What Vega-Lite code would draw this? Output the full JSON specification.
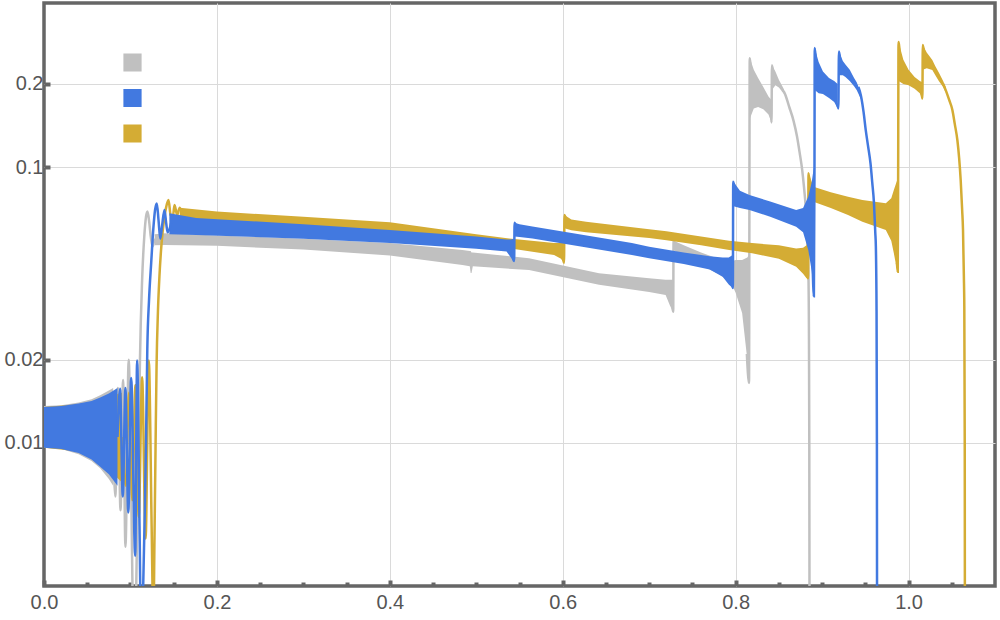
{
"$schema": "https://vega.github.io/schema/vega-lite/v6.json",
"width": 951, "height": 583,
"autosize": {"type": "none"},
"padding": {"left": 44, "top": 3, "right": 5, "bottom": 34},
"background": "white",
"config": {
  "view": {"stroke": "#666666", "strokeWidth": 3.5},
  "axis": {"domain": false, "labelFont": "Arial", "labelFontSize": 20, "labelColor": "#555555", "gridColor": "#dadada", "gridWidth": 1, "tickColor": "#666666", "tickWidth": 4}
},
"datasets": {
"band": [
{"s":"g","seg":"g0","x":0,"v":0.0136,"v2":0.0096},{"s":"g","seg":"g0","x":0.02,"v":0.0137,"v2":0.0095},{"s":"g","seg":"g0","x":0.04,"v":0.0140,"v2":0.0091},{"s":"g","seg":"g0","x":0.055,"v":0.0144,"v2":0.0086},{"s":"g","seg":"g0","x":0.065,"v":0.0149,"v2":0.0081},{"s":"g","seg":"g0","x":0.075,"v":0.0155,"v2":0.0074},{"s":"g","seg":"g0","x":0.08,"v":0.0158,"v2":0.0070},
{"s":"g","seg":"g1","x":0.128,"v":0.057,"v2":0.052},{"s":"g","seg":"g1","x":0.14,"v":0.0575,"v2":0.0522},{"s":"g","seg":"g1","x":0.2,"v":0.0565,"v2":0.0518},{"s":"g","seg":"g1","x":0.3,"v":0.055,"v2":0.0502},{"s":"g","seg":"g1","x":0.4,"v":0.053,"v2":0.0478},{"s":"g","seg":"g1","x":0.484,"v":0.05,"v2":0.0441},{"s":"g","seg":"g1","x":0.4925,"v":0.0496,"v2":0.0437},{"s":"g","seg":"g1","x":0.4935,"v":0.0496,"v2":0.0413},{"s":"g","seg":"g1","x":0.4945,"v":0.049,"v2":0.0413},{"s":"g","seg":"g1","x":0.496,"v":0.049,"v2":0.0437},{"s":"g","seg":"g1","x":0.561,"v":0.0467,"v2":0.0423},{"s":"g","seg":"g1","x":0.642,"v":0.0412,"v2":0.0374},{"s":"g","seg":"g1","x":0.7,"v":0.0395,"v2":0.0352},{"s":"g","seg":"g1","x":0.719,"v":0.039,"v2":0.0344},{"s":"g","seg":"g1","x":0.724,"v":0.039,"v2":0.0315},{"s":"g","seg":"g1","x":0.7275,"v":0.039,"v2":0.0299},
{"s":"g","seg":"g2","x":0.7285,"v":0.054,"v2":0.05},{"s":"g","seg":"g2","x":0.74,"v":0.052,"v2":0.047},{"s":"g","seg":"g2","x":0.76,"v":0.049,"v2":0.044},{"s":"g","seg":"g2","x":0.78,"v":0.0465,"v2":0.041},{"s":"g","seg":"g2","x":0.795,"v":0.0455,"v2":0.038},{"s":"g","seg":"g2","x":0.8,"v":0.046,"v2":0.035},{"s":"g","seg":"g2","x":0.8075,"v":0.046,"v2":0.0296},{"s":"g","seg":"g2","x":0.8135,"v":0.047,"v2":0.02},{"s":"g","seg":"g2","x":0.8155,"v":0.048,"v2":0.0165},
{"s":"g","seg":"g3","x":0.8165,"v":0.248,"v2":0.15},{"s":"g","seg":"g3","x":0.821,"v":0.225,"v2":0.163},{"s":"g","seg":"g3","x":0.826,"v":0.21,"v2":0.165},{"s":"g","seg":"g3","x":0.832,"v":0.195,"v2":0.162},{"s":"g","seg":"g3","x":0.838,"v":0.18,"v2":0.155},{"s":"g","seg":"g3","x":0.8415,"v":0.175,"v2":0.145},
{"s":"g","seg":"g4","x":0.842,"v":0.234,"v2":0.19},{"s":"g","seg":"g4","x":0.846,"v":0.222,"v2":0.198},{"s":"g","seg":"g4","x":0.85,"v":0.207,"v2":0.194},{"s":"g","seg":"g4","x":0.856,"v":0.191,"v2":0.184},
{"s":"b","seg":"b0","x":0,"v":0.0135,"v2":0.0096},{"s":"b","seg":"b0","x":0.02,"v":0.0136,"v2":0.0095},{"s":"b","seg":"b0","x":0.04,"v":0.0139,"v2":0.0092},{"s":"b","seg":"b0","x":0.055,"v":0.0142,"v2":0.0087},{"s":"b","seg":"b0","x":0.065,"v":0.0146,"v2":0.0082},{"s":"b","seg":"b0","x":0.075,"v":0.0151,"v2":0.0077},{"s":"b","seg":"b0","x":0.085,"v":0.0158,"v2":0.007},
{"s":"b","seg":"b1","x":0.145,"v":0.068,"v2":0.057},{"s":"b","seg":"b1","x":0.176,"v":0.0654,"v2":0.0567},{"s":"b","seg":"b1","x":0.3,"v":0.062,"v2":0.055},{"s":"b","seg":"b1","x":0.4,"v":0.0591,"v2":0.053},{"s":"b","seg":"b1","x":0.5,"v":0.056,"v2":0.0505},{"s":"b","seg":"b1","x":0.535,"v":0.0546,"v2":0.0494},{"s":"b","seg":"b1","x":0.54,"v":0.0546,"v2":0.047},{"s":"b","seg":"b1","x":0.5435,"v":0.055,"v2":0.0456},
{"s":"b","seg":"b2","x":0.5445,"v":0.0628,"v2":0.056},{"s":"b","seg":"b2","x":0.55,"v":0.062,"v2":0.0558},{"s":"b","seg":"b2","x":0.565,"v":0.0609,"v2":0.0551},{"s":"b","seg":"b2","x":0.68,"v":0.053,"v2":0.048},{"s":"b","seg":"b2","x":0.7,"v":0.0514,"v2":0.0467},{"s":"b","seg":"b2","x":0.74,"v":0.049,"v2":0.0445},{"s":"b","seg":"b2","x":0.77,"v":0.0475,"v2":0.0425},{"s":"b","seg":"b2","x":0.785,"v":0.047,"v2":0.04},{"s":"b","seg":"b2","x":0.792,"v":0.047,"v2":0.0375},{"s":"b","seg":"b2","x":0.7965,"v":0.048,"v2":0.0364},
{"s":"b","seg":"b3","x":0.7975,"v":0.0885,"v2":0.072},{"s":"b","seg":"b3","x":0.805,"v":0.082,"v2":0.071},{"s":"b","seg":"b3","x":0.816,"v":0.0792,"v2":0.0699},{"s":"b","seg":"b3","x":0.84,"v":0.075,"v2":0.066},{"s":"b","seg":"b3","x":0.87,"v":0.0699,"v2":0.0608},{"s":"b","seg":"b3","x":0.878,"v":0.071,"v2":0.058},{"s":"b","seg":"b3","x":0.884,"v":0.078,"v2":0.05},{"s":"b","seg":"b3","x":0.888,"v":0.088,"v2":0.042},{"s":"b","seg":"b3","x":0.8905,"v":0.1,"v2":0.034},
{"s":"b","seg":"b4","x":0.8915,"v":0.27,"v2":0.19},{"s":"b","seg":"b4","x":0.896,"v":0.24,"v2":0.185},{"s":"b","seg":"b4","x":0.901,"v":0.222,"v2":0.184},{"s":"b","seg":"b4","x":0.908,"v":0.21,"v2":0.178},{"s":"b","seg":"b4","x":0.914,"v":0.205,"v2":0.172},{"s":"b","seg":"b4","x":0.918,"v":0.2,"v2":0.163},
{"s":"b","seg":"b5","x":0.9195,"v":0.262,"v2":0.215},{"s":"b","seg":"b5","x":0.924,"v":0.242,"v2":0.215},{"s":"b","seg":"b5","x":0.927,"v":0.235,"v2":0.212},{"s":"b","seg":"b5","x":0.932,"v":0.225,"v2":0.205},{"s":"b","seg":"b5","x":0.937,"v":0.21,"v2":0.196},{"s":"b","seg":"b5","x":0.94,"v":0.203,"v2":0.19},{"s":"b","seg":"b5","x":0.945,"v":0.186,"v2":0.176},
{"s":"y","seg":"y0","x":0,"v":0.0135,"v2":0.0096},{"s":"y","seg":"y0","x":0.04,"v":0.0138,"v2":0.0093},{"s":"y","seg":"y0","x":0.06,"v":0.0142,"v2":0.0087},{"s":"y","seg":"y0","x":0.075,"v":0.0147,"v2":0.008},{"s":"y","seg":"y0","x":0.09,"v":0.0152,"v2":0.0072},
{"s":"y","seg":"y1","x":0.157,"v":0.0712,"v2":0.064},{"s":"y","seg":"y1","x":0.2,"v":0.069,"v2":0.0635},{"s":"y","seg":"y1","x":0.3,"v":0.066,"v2":0.06},{"s":"y","seg":"y1","x":0.4,"v":0.063,"v2":0.058},{"s":"y","seg":"y1","x":0.5,"v":0.057,"v2":0.0525},{"s":"y","seg":"y1","x":0.538,"v":0.0551,"v2":0.0508},{"s":"y","seg":"y1","x":0.59,"v":0.053,"v2":0.048},{"s":"y","seg":"y1","x":0.598,"v":0.053,"v2":0.0465},{"s":"y","seg":"y1","x":0.6015,"v":0.053,"v2":0.045},
{"s":"y","seg":"y2","x":0.602,"v":0.067,"v2":0.06},{"s":"y","seg":"y2","x":0.61,"v":0.0645,"v2":0.059},{"s":"y","seg":"y2","x":0.627,"v":0.0633,"v2":0.058},{"s":"y","seg":"y2","x":0.7,"v":0.0595,"v2":0.0553},{"s":"y","seg":"y2","x":0.72,"v":0.0585,"v2":0.0543},{"s":"y","seg":"y2","x":0.76,"v":0.056,"v2":0.052},{"s":"y","seg":"y2","x":0.7925,"v":0.054,"v2":0.05},{"s":"y","seg":"y2","x":0.819,"v":0.053,"v2":0.0487},{"s":"y","seg":"y2","x":0.85,"v":0.052,"v2":0.0465},{"s":"y","seg":"y2","x":0.87,"v":0.0507,"v2":0.0435},{"s":"y","seg":"y2","x":0.878,"v":0.051,"v2":0.041},{"s":"y","seg":"y2","x":0.882,"v":0.052,"v2":0.0395},{"s":"y","seg":"y2","x":0.8835,"v":0.056,"v2":0.0395},
{"s":"y","seg":"y3","x":0.8845,"v":0.095,"v2":0.078},{"s":"y","seg":"y3","x":0.89,"v":0.0848,"v2":0.0749},{"s":"y","seg":"y3","x":0.91,"v":0.081,"v2":0.071},{"s":"y","seg":"y3","x":0.93,"v":0.078,"v2":0.067},{"s":"y","seg":"y3","x":0.9466,"v":0.0759,"v2":0.0633},{"s":"y","seg":"y3","x":0.9737,"v":0.0739,"v2":0.0591},{"s":"y","seg":"y3","x":0.98,"v":0.077,"v2":0.054},{"s":"y","seg":"y3","x":0.983,"v":0.0825,"v2":0.0487},{"s":"y","seg":"y3","x":0.987,"v":0.09,"v2":0.0417},{"s":"y","seg":"y3","x":0.9878,"v":0.1,"v2":0.0417},
{"s":"y","seg":"y4","x":0.9885,"v":0.284,"v2":0.205},{"s":"y","seg":"y4","x":0.994,"v":0.245,"v2":0.2},{"s":"y","seg":"y4","x":1.0,"v":0.225,"v2":0.198},{"s":"y","seg":"y4","x":1.007,"v":0.212,"v2":0.192},{"s":"y","seg":"y4","x":1.013,"v":0.205,"v2":0.185},{"s":"y","seg":"y4","x":1.016,"v":0.203,"v2":0.177},
{"s":"y","seg":"y5","x":1.0165,"v":0.277,"v2":0.225},{"s":"y","seg":"y5","x":1.021,"v":0.26,"v2":0.228},{"s":"y","seg":"y5","x":1.0275,"v":0.244,"v2":0.2246},{"s":"y","seg":"y5","x":1.031,"v":0.232,"v2":0.215},{"s":"y","seg":"y5","x":1.035,"v":0.22,"v2":0.205},{"s":"y","seg":"y5","x":1.04,"v":0.205,"v2":0.195},{"s":"y","seg":"y5","x":1.043,"v":0.195,"v2":0.186}
],
"line": [
{"s":"g","seg":"gL1","x":0.08,"v":0.0105},{"s":"g","seg":"gL1","x":0.0825,"v":0.0064},{"s":"g","seg":"gL1","x":0.0855,"v":0.0158},{"s":"g","seg":"gL1","x":0.0885,"v":0.0057},{"s":"g","seg":"gL1","x":0.0915,"v":0.0169},{"s":"g","seg":"gL1","x":0.0942,"v":0.0042},{"s":"g","seg":"gL1","x":0.098,"v":0.02},{"s":"g","seg":"gL1","x":0.1005,"v":0.008},{"s":"g","seg":"gL1","x":0.1035,"v":0.0022},{"s":"g","seg":"gL1","x":0.106,"v":0.0025},{"s":"g","seg":"gL1","x":0.108,"v":0.0055},{"s":"g","seg":"gL1","x":0.1096,"v":0.01},{"s":"g","seg":"gL1","x":0.111,"v":0.02},{"s":"g","seg":"gL1","x":0.1135,"v":0.039},{"s":"g","seg":"gL1","x":0.116,"v":0.056},{"s":"g","seg":"gL1","x":0.118,"v":0.066},{"s":"g","seg":"gL1","x":0.1197,"v":0.069},{"s":"g","seg":"gL1","x":0.1215,"v":0.064},{"s":"g","seg":"gL1","x":0.1235,"v":0.056},{"s":"g","seg":"gL1","x":0.1255,"v":0.0515},{"s":"g","seg":"gL1","x":0.128,"v":0.0545},{"s":"g","seg":"gL1","x":0.132,"v":0.0545},
{"s":"g","seg":"gL2","x":0.726,"v":0.034},{"s":"g","seg":"gL2","x":0.7278,"v":0.0299},{"s":"g","seg":"gL2","x":0.7282,"v":0.054},{"s":"g","seg":"gL2","x":0.731,"v":0.051},
{"s":"g","seg":"gL3","x":0.813,"v":0.021},{"s":"g","seg":"gL3","x":0.8155,"v":0.0165},{"s":"g","seg":"gL3","x":0.8163,"v":0.248},{"s":"g","seg":"gL3","x":0.818,"v":0.21},
{"s":"g","seg":"gL4","x":0.8405,"v":0.16},{"s":"g","seg":"gL4","x":0.8415,"v":0.145},{"s":"g","seg":"gL4","x":0.842,"v":0.234},{"s":"g","seg":"gL4","x":0.844,"v":0.215},
{"s":"g","seg":"gL5","x":0.854,"v":0.19},{"s":"g","seg":"gL5","x":0.856,"v":0.187},{"s":"g","seg":"gL5","x":0.862,"v":0.165},{"s":"g","seg":"gL5","x":0.867,"v":0.147},{"s":"g","seg":"gL5","x":0.871,"v":0.129},{"s":"g","seg":"gL5","x":0.874,"v":0.113},{"s":"g","seg":"gL5","x":0.877,"v":0.0975},{"s":"g","seg":"gL5","x":0.879,"v":0.085},{"s":"g","seg":"gL5","x":0.881,"v":0.072},{"s":"g","seg":"gL5","x":0.883,"v":0.055},{"s":"g","seg":"gL5","x":0.884,"v":0.045},{"s":"g","seg":"gL5","x":0.8848,"v":0.025},{"s":"g","seg":"gL5","x":0.8852,"v":0.01},{"s":"g","seg":"gL5","x":0.8855,"v":0.002},
{"s":"b","seg":"bL1","x":0.085,"v":0.0105},{"s":"b","seg":"bL1","x":0.088,"v":0.0157},{"s":"b","seg":"bL1","x":0.0911,"v":0.0064},{"s":"b","seg":"bL1","x":0.0942,"v":0.0158},{"s":"b","seg":"bL1","x":0.0975,"v":0.0056},{"s":"b","seg":"bL1","x":0.1008,"v":0.0172},{"s":"b","seg":"bL1","x":0.1055,"v":0.0039},{"s":"b","seg":"bL1","x":0.1077,"v":0.0199},{"s":"b","seg":"bL1","x":0.1105,"v":0.005},{"s":"b","seg":"bL1","x":0.1125,"v":0.0018},{"s":"b","seg":"bL1","x":0.1145,"v":0.0028},{"s":"b","seg":"bL1","x":0.1165,"v":0.0055},{"s":"b","seg":"bL1","x":0.118,"v":0.01},{"s":"b","seg":"bL1","x":0.1195,"v":0.022},{"s":"b","seg":"bL1","x":0.1215,"v":0.033},{"s":"b","seg":"bL1","x":0.124,"v":0.045},{"s":"b","seg":"bL1","x":0.1265,"v":0.06},{"s":"b","seg":"bL1","x":0.1285,"v":0.07},{"s":"b","seg":"bL1","x":0.1305,"v":0.0738},{"s":"b","seg":"bL1","x":0.1325,"v":0.064},{"s":"b","seg":"bL1","x":0.1345,"v":0.055},{"s":"b","seg":"bL1","x":0.1365,"v":0.061},{"s":"b","seg":"bL1","x":0.1393,"v":0.0699},{"s":"b","seg":"bL1","x":0.1415,"v":0.062},{"s":"b","seg":"bL1","x":0.143,"v":0.058},{"s":"b","seg":"bL1","x":0.147,"v":0.0625},
{"s":"b","seg":"bL2","x":0.542,"v":0.047},{"s":"b","seg":"bL2","x":0.5438,"v":0.0456},{"s":"b","seg":"bL2","x":0.5443,"v":0.0628},{"s":"b","seg":"bL2","x":0.547,"v":0.059},
{"s":"b","seg":"bL3","x":0.795,"v":0.039},{"s":"b","seg":"bL3","x":0.7968,"v":0.0364},{"s":"b","seg":"bL3","x":0.7972,"v":0.0885},{"s":"b","seg":"bL3","x":0.8,"v":0.08},
{"s":"b","seg":"bL4","x":0.889,"v":0.045},{"s":"b","seg":"bL4","x":0.8905,"v":0.034},{"s":"b","seg":"bL4","x":0.8912,"v":0.1},{"s":"b","seg":"bL4","x":0.8915,"v":0.27},{"s":"b","seg":"bL4","x":0.893,"v":0.24},
{"s":"b","seg":"bL5","x":0.9175,"v":0.17},{"s":"b","seg":"bL5","x":0.9188,"v":0.163},{"s":"b","seg":"bL5","x":0.9195,"v":0.262},{"s":"b","seg":"bL5","x":0.921,"v":0.245},
{"s":"b","seg":"bL6","x":0.942,"v":0.195},{"s":"b","seg":"bL6","x":0.945,"v":0.181},{"s":"b","seg":"bL6","x":0.948,"v":0.158},{"s":"b","seg":"bL6","x":0.9505,"v":0.136},{"s":"b","seg":"bL6","x":0.953,"v":0.12},{"s":"b","seg":"bL6","x":0.956,"v":0.103},{"s":"b","seg":"bL6","x":0.958,"v":0.088},{"s":"b","seg":"bL6","x":0.96,"v":0.074},{"s":"b","seg":"bL6","x":0.9615,"v":0.058},{"s":"b","seg":"bL6","x":0.9622,"v":0.0514},{"s":"b","seg":"bL6","x":0.963,"v":0.03},{"s":"b","seg":"bL6","x":0.9634,"v":0.01},{"s":"b","seg":"bL6","x":0.9636,"v":0.002},
{"s":"y","seg":"yL1","x":0.09,"v":0.0105},{"s":"y","seg":"yL1","x":0.0946,"v":0.007},{"s":"y","seg":"yL1","x":0.0983,"v":0.0152},{"s":"y","seg":"yL1","x":0.1021,"v":0.0062},{"s":"y","seg":"yL1","x":0.1058,"v":0.0162},{"s":"y","seg":"yL1","x":0.1096,"v":0.0054},{"s":"y","seg":"yL1","x":0.1135,"v":0.0173},{"s":"y","seg":"yL1","x":0.1175,"v":0.0045},{"s":"y","seg":"yL1","x":0.1212,"v":0.0199},{"s":"y","seg":"yL1","x":0.1245,"v":0.005},{"s":"y","seg":"yL1","x":0.1265,"v":0.0022},{"s":"y","seg":"yL1","x":0.1278,"v":0.0045},{"s":"y","seg":"yL1","x":0.129,"v":0.0095},{"s":"y","seg":"yL1","x":0.1302,"v":0.019},{"s":"y","seg":"yL1","x":0.1318,"v":0.03},{"s":"y","seg":"yL1","x":0.1335,"v":0.04},{"s":"y","seg":"yL1","x":0.136,"v":0.053},{"s":"y","seg":"yL1","x":0.139,"v":0.065},{"s":"y","seg":"yL1","x":0.1415,"v":0.072},{"s":"y","seg":"yL1","x":0.144,"v":0.0759},{"s":"y","seg":"yL1","x":0.1465,"v":0.067},{"s":"y","seg":"yL1","x":0.149,"v":0.066},{"s":"y","seg":"yL1","x":0.151,"v":0.0728},{"s":"y","seg":"yL1","x":0.154,"v":0.067},{"s":"y","seg":"yL1","x":0.157,"v":0.0712},{"s":"y","seg":"yL1","x":0.16,"v":0.067},
{"s":"y","seg":"yL2","x":0.6,"v":0.047},{"s":"y","seg":"yL2","x":0.6015,"v":0.045},{"s":"y","seg":"yL2","x":0.602,"v":0.067},{"s":"y","seg":"yL2","x":0.604,"v":0.064},
{"s":"y","seg":"yL3","x":0.882,"v":0.042},{"s":"y","seg":"yL3","x":0.8838,"v":0.0395},{"s":"y","seg":"yL3","x":0.8843,"v":0.095},{"s":"y","seg":"yL3","x":0.886,"v":0.085},
{"s":"y","seg":"yL4","x":0.9865,"v":0.045},{"s":"y","seg":"yL4","x":0.9875,"v":0.0417},{"s":"y","seg":"yL4","x":0.988,"v":0.1},{"s":"y","seg":"yL4","x":0.9884,"v":0.284},{"s":"y","seg":"yL4","x":0.99,"v":0.25},
{"s":"y","seg":"yL5","x":1.015,"v":0.185},{"s":"y","seg":"yL5","x":1.016,"v":0.177},{"s":"y","seg":"yL5","x":1.0165,"v":0.277},{"s":"y","seg":"yL5","x":1.018,"v":0.26},
{"s":"y","seg":"yL6","x":1.04,"v":0.2},{"s":"y","seg":"yL6","x":1.043,"v":0.19},{"s":"y","seg":"yL6","x":1.047,"v":0.175},{"s":"y","seg":"yL6","x":1.0507,"v":0.161},{"s":"y","seg":"yL6","x":1.0535,"v":0.143},{"s":"y","seg":"yL6","x":1.0565,"v":0.125},{"s":"y","seg":"yL6","x":1.0585,"v":0.108},{"s":"y","seg":"yL6","x":1.0603,"v":0.0897},{"s":"y","seg":"yL6","x":1.062,"v":0.07},{"s":"y","seg":"yL6","x":1.063,"v":0.0591},{"s":"y","seg":"yL6","x":1.064,"v":0.04},{"s":"y","seg":"yL6","x":1.0645,"v":0.0312},{"s":"y","seg":"yL6","x":1.065,"v":0.01},{"s":"y","seg":"yL6","x":1.0652,"v":0.002}
]
},
"encoding": {
  "x": {"field": "x", "type": "quantitative", "title": null, "scale": {"domain": [0, 1.1], "nice": false, "zero": false},
        "axis": {"values": [0,0.05,0.1,0.15,0.2,0.25,0.3,0.35,0.4,0.45,0.5,0.55,0.6,0.65,0.7,0.75,0.8,0.85,0.9,0.95,1.0,1.05],
                 "labelExpr": "abs(datum.value*5-round(datum.value*5))<0.001 ? format(datum.value,'.1f') : ''",
                 "gridOpacity": {"condition": {"test": "abs(datum.value*5-round(datum.value*5))<0.001 && datum.value>0.01", "value": 1}, "value": 0},
                 "tickSize": {"condition": {"test": "abs(datum.value*5-round(datum.value*5))<0.001", "value": -6}, "value": -4},
                 "labelFont": "Arial", "labelFontSize": 20, "labelColor": "#555555",
                 "labelPadding": 12, "labelFlush": false, "labelOverlap": false}},
  "y": {"field": "v", "type": "quantitative", "title": null, "scale": {"type": "log", "domain": [0.00303, 0.393], "nice": false},
        "axis": {"values": [0.01, 0.02, 0.1, 0.2], "format": "~g", "tickSize": -6, "labelPadding": 7,
                 "labelFont": "Arial", "labelFontSize": 20, "labelColor": "#555555"}},
  "color": {"field": "s", "type": "nominal",
            "scale": {"domain": ["g", "b", "y"], "range": ["#c0c0c0", "#4279e0", "#d4ac34"]},
            "legend": {"orient": "none", "legendX": 79, "legendY": 50, "title": null, "symbolType": "square", "symbolSize": 289,
                       "symbolStrokeColor": "#999999", "symbolStrokeWidth": 1, "labelExpr": "''", "labelFontSize": 8, "rowPadding": 12.5, "padding": 0,
                       "symbolOpacity": 1,
                       "encode": {"symbols": {"update": {"fill": {"scale": "color", "field": "value"}, "stroke": {"value": "#999999"}, "strokeWidth": {"value": 1.2}, "opacity": {"value": 1}}}}}},
  "detail": {"field": "seg"}
},
"layer": [
  {"data": {"name": "band"}, "transform": [{"filter": "datum.s === 'g'"}], "mark": {"type": "area", "clip": true, "opacity": 1}, "encoding": {"y2": {"field": "v2"}}},
  {"data": {"name": "line"}, "transform": [{"filter": "datum.s === 'g'"}], "mark": {"type": "line", "clip": true, "strokeWidth": 2.5, "interpolate": "monotone"}},
  {"data": {"name": "band"}, "transform": [{"filter": "datum.s === 'y'"}], "mark": {"type": "area", "clip": true, "opacity": 1}, "encoding": {"y2": {"field": "v2"}}},
  {"data": {"name": "line"}, "transform": [{"filter": "datum.s === 'y'"}], "mark": {"type": "line", "clip": true, "strokeWidth": 2.5, "interpolate": "monotone"}},
  {"data": {"name": "band"}, "transform": [{"filter": "datum.s === 'b'"}], "mark": {"type": "area", "clip": true, "opacity": 1}, "encoding": {"y2": {"field": "v2"}}},
  {"data": {"name": "line"}, "transform": [{"filter": "datum.s === 'b'"}], "mark": {"type": "line", "clip": true, "strokeWidth": 2.5, "interpolate": "monotone"}}
]
}
